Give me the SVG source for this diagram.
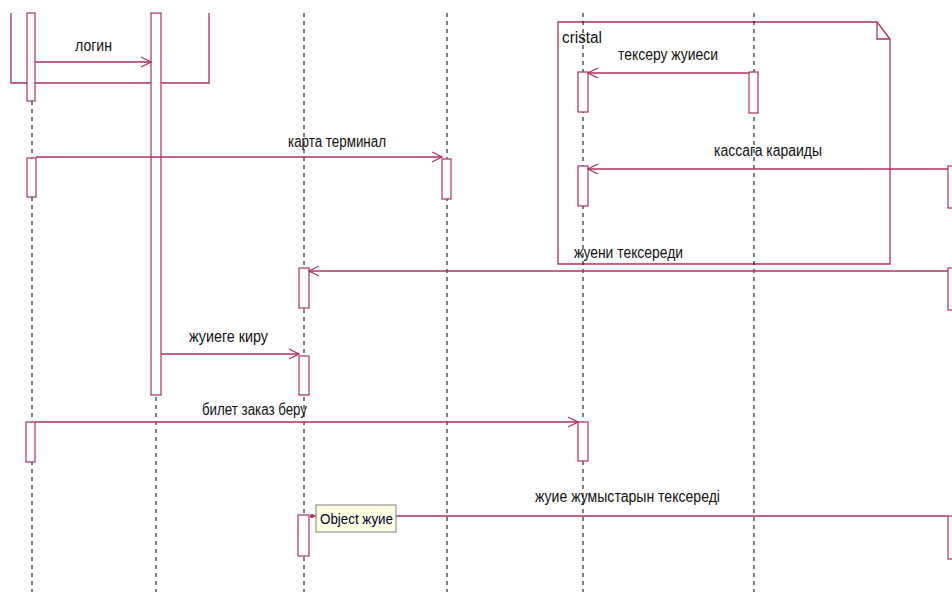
<svg xmlns="http://www.w3.org/2000/svg" width="952" height="596" viewBox="0 0 952 596">
<style>
.life{stroke:#000;stroke-width:1;stroke-dasharray:4,4;fill:none}
.act{fill:#fff;stroke:#b03060;stroke-width:1.2}
.frm{fill:none;stroke:#b03060;stroke-width:1.3}
.msg{stroke:#b03060;stroke-width:1.4;fill:none}
.lbl{font-family:"Liberation Sans",Arial,sans-serif;font-size:16px;fill:#111}
</style>
<defs>
<marker id="ah" markerUnits="userSpaceOnUse" markerWidth="12" markerHeight="12" refX="11" refY="6" orient="auto">
<path d="M1,1 L11,6 L1,11" fill="none" stroke="#b03060" stroke-width="1.2"/>
</marker>
</defs>
<rect width="952" height="596" fill="#fff"/>
<g id="frame-left">
<path class="frm" d="M11,13 V83 H209 V13"/>
</g>
<g id="frame-cristal">
<path class="frm" d="M558,264 V22 H877 L890,39 V264 Z"/>
<path class="frm" d="M877,22 V39 H890"/>
<text class="lbl" x="562" y="43" textLength="40" lengthAdjust="spacingAndGlyphs">cristal</text>
</g>
<g id="lifeline-1">
<line class="life" x1="32" y1="13" x2="32" y2="592"/>
<rect class="act" x="27" y="13" width="8" height="88"/>
<rect class="act" x="27" y="158" width="9" height="39"/>
<rect class="act" x="26" y="422" width="9" height="40"/>
</g>
<g id="lifeline-2">
<line class="life" x1="156" y1="13" x2="156" y2="592"/>
<rect class="act" x="151" y="13" width="10" height="382"/>
</g>
<g id="lifeline-3">
<line class="life" x1="304" y1="13" x2="304" y2="592"/>
<rect class="act" x="299" y="268" width="10" height="40"/>
<rect class="act" x="299" y="356" width="10" height="39"/>
<rect class="act" x="298" y="515" width="11" height="41"/>
</g>
<g id="lifeline-4">
<line class="life" x1="447" y1="13" x2="447" y2="592"/>
<rect class="act" x="442" y="159" width="9" height="40"/>
</g>
<g id="lifeline-5">
<line class="life" x1="583" y1="13" x2="583" y2="592"/>
<rect class="act" x="578" y="72" width="10" height="40"/>
<rect class="act" x="578" y="166" width="10" height="40"/>
<rect class="act" x="578" y="422" width="10" height="39"/>
</g>
<g id="lifeline-6">
<line class="life" x1="754" y1="13" x2="754" y2="592"/>
<rect class="act" x="749" y="72" width="9" height="41"/>
</g>
<g id="lifeline-7">
<rect class="act" x="948" y="166" width="12" height="42"/>
<rect class="act" x="948" y="268" width="12" height="42"/>
<rect class="act" x="948" y="516" width="12" height="43"/>
</g>
<g id="connectors">
<line class="msg" x1="35" y1="62" x2="151" y2="62" marker-end="url(#ah)"/>
<line class="msg" x1="749" y1="73" x2="588" y2="73" marker-end="url(#ah)"/>
<line class="msg" x1="36" y1="157" x2="442" y2="157" marker-end="url(#ah)"/>
<line class="msg" x1="948" y1="169" x2="588" y2="169" marker-end="url(#ah)"/>
<line class="msg" x1="948" y1="271" x2="309" y2="271" marker-end="url(#ah)"/>
<line class="msg" x1="161" y1="354" x2="299" y2="354" marker-end="url(#ah)"/>
<line class="msg" x1="35" y1="422" x2="578" y2="422" marker-end="url(#ah)"/>
<line class="msg" x1="948" y1="516" x2="310" y2="516"/>
<circle cx="312" cy="516" r="2" fill="#b03060"/>
</g>
<g id="labels">
<text class="lbl" x="75" y="51" textLength="37" lengthAdjust="spacingAndGlyphs">логин</text>
<text class="lbl" x="618" y="60" textLength="100" lengthAdjust="spacingAndGlyphs">тексеру жуиеси</text>
<text class="lbl" x="288" y="147" textLength="98" lengthAdjust="spacingAndGlyphs">карта терминал</text>
<text class="lbl" x="714" y="156" textLength="108" lengthAdjust="spacingAndGlyphs">кассага караиды</text>
<text class="lbl" x="574" y="258" textLength="109" lengthAdjust="spacingAndGlyphs">жуени тексереди</text>
<text class="lbl" x="189" y="342" textLength="79" lengthAdjust="spacingAndGlyphs">жуиеге киру</text>
<text class="lbl" x="202" y="415" textLength="105" lengthAdjust="spacingAndGlyphs">билет заказ беру</text>
<text class="lbl" x="535" y="502" textLength="185" lengthAdjust="spacingAndGlyphs">жуие жумыстарын тексереді</text>
</g>
<g id="object-label">
<rect x="316" y="505" width="80" height="27" fill="#ffffe1" stroke="#808080" stroke-width="1"/>
<text x="320" y="524" font-family="Liberation Sans,Arial,sans-serif" font-size="15" fill="#000033" textLength="73" lengthAdjust="spacingAndGlyphs">Object жуие</text>
</g>
</svg>
